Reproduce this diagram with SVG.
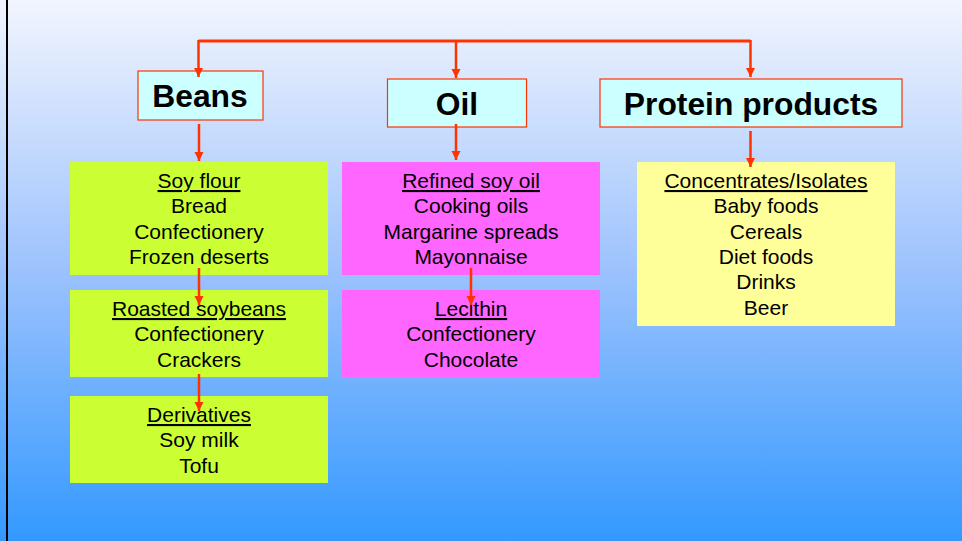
<svg xmlns="http://www.w3.org/2000/svg" width="962" height="541" viewBox="0 0 962 541">
<defs>
<linearGradient id="bg" x1="0" y1="0" x2="0" y2="1">
<stop offset="0" stop-color="#f2f5fe"/>
<stop offset="0.5" stop-color="#9cc2fd"/>
<stop offset="1" stop-color="#3399ff"/>
</linearGradient>
<marker id="ah" viewBox="0 0 10 10" refX="10" refY="5" markerWidth="3.8" markerHeight="3.8" orient="auto" markerUnits="strokeWidth">
<path d="M0,0 L10,5 L0,10 Z" fill="#ff3300"/>
</marker>
<style>
.hd{fill:#ccffff;stroke:#ff3300;stroke-width:1.2}
.ht{font-family:"Liberation Sans",Arial,sans-serif;font-weight:bold;font-size:31.8px;fill:#000;text-anchor:middle}
.bt{font-family:"Liberation Sans",Arial,sans-serif;font-size:21px;fill:#000;text-anchor:middle}
.u{text-decoration:underline}
.g{fill:#ccff33}
.p{fill:#ff66ff}
.y{fill:#ffff99}
.c{fill:none;stroke:#ff3300;stroke-width:2.5}
</style>
</defs>
<rect x="0" y="0" width="962" height="541" fill="url(#bg)"/>
<rect x="6" y="0" width="2" height="541" fill="#000"/>

<g id="beans"><rect class="hd" x="138" y="71" width="125" height="49"/><text class="ht" x="200" y="107">Beans</text></g>
<g id="oil"><rect class="hd" x="387.5" y="79" width="139" height="48"/><text class="ht" x="457" y="115">Oil</text></g>
<g id="protein"><rect class="hd" x="600" y="79" width="302" height="48"/><text class="ht" x="751" y="115">Protein products</text></g>

<g id="soyflour"><rect class="g" x="70" y="162" width="258" height="113"/>
<text class="bt"><tspan class="u" x="199" y="188">Soy flour</tspan><tspan x="199" y="213.3">Bread</tspan><tspan x="199" y="238.6">Confectionery</tspan><tspan x="199" y="264">Frozen deserts</tspan></text></g>
<g id="roasted"><rect class="g" x="70" y="290" width="258" height="87"/>
<text class="bt"><tspan class="u" x="199" y="316">Roasted soybeans</tspan><tspan x="199" y="341.3">Confectionery</tspan><tspan x="199" y="366.6">Crackers</tspan></text></g>
<g id="derivatives"><rect class="g" x="70" y="396" width="258" height="87"/>
<text class="bt"><tspan class="u" x="199" y="422">Derivatives</tspan><tspan x="199" y="447.3">Soy milk</tspan><tspan x="199" y="472.6">Tofu</tspan></text></g>

<g id="refined"><rect class="p" x="342" y="162" width="258" height="113"/>
<text class="bt"><tspan class="u" x="471" y="188">Refined soy oil</tspan><tspan x="471" y="213.3">Cooking oils</tspan><tspan x="471" y="238.6">Margarine spreads</tspan><tspan x="471" y="264">Mayonnaise</tspan></text></g>
<g id="lecithin"><rect class="p" x="342" y="290" width="258" height="87"/>
<text class="bt"><tspan class="u" x="471" y="316">Lecithin</tspan><tspan x="471" y="341.3">Confectionery</tspan><tspan x="471" y="366.6">Chocolate</tspan></text></g>

<g id="concentrates"><rect class="y" x="637" y="162" width="258" height="164"/>
<text class="bt"><tspan class="u" x="766" y="188">Concentrates/Isolates</tspan><tspan x="766" y="213.3">Baby foods</tspan><tspan x="766" y="238.6">Cereals</tspan><tspan x="766" y="264">Diet foods</tspan><tspan x="766" y="289.3">Drinks</tspan><tspan x="766" y="314.6">Beer</tspan></text></g>

<g id="connectors">
<path d="M198.5,41 L750.5,41" fill="none" stroke="#ff3300" stroke-width="3"/>
<path class="c" d="M198.5,40 L198.5,77" marker-end="url(#ah)"/>
<path class="c" d="M456,40 L456,78" marker-end="url(#ah)"/>
<path class="c" d="M750.5,40 L750.5,77" marker-end="url(#ah)"/>
<path class="c" d="M199,124 L199,161" marker-end="url(#ah)"/>
<path class="c" d="M456,124 L456,160" marker-end="url(#ah)"/>
<path class="c" d="M750.5,131 L750.5,167" marker-end="url(#ah)"/>
<path class="c" d="M199,268 L199,305" marker-end="url(#ah)"/>
<path class="c" d="M199,374 L199,411" marker-end="url(#ah)"/>
<path class="c" d="M471,268 L471,305" marker-end="url(#ah)"/>
</g>
</svg>
